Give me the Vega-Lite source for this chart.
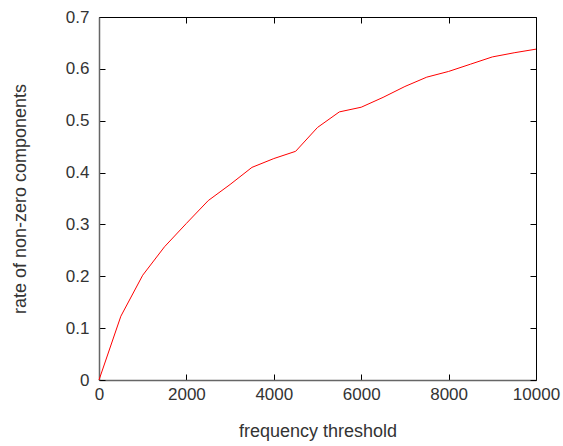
{
  "$schema": "https://vega.github.io/schema/vega-lite/v6.json",
  "width": 437,
  "height": 363,
  "autosize": {"type": "none"},
  "padding": {"left": 99, "top": 17, "right": 27, "bottom": 66},
  "background": "white",
  "config": {
    "view": {"stroke": "#000000", "strokeWidth": 1},
    "axis": {
      "labelFont": "Liberation Sans",
      "titleFont": "Liberation Sans",
      "labelFontSize": 17,
      "titleFontSize": 18,
      "labelColor": "#333333",
      "titleColor": "#333333",
      "titleFontWeight": "normal",
      "grid": false,
      "domainColor": "#666666",
      "domainWidth": 1.5,
      "tickColor": "#000000",
      "tickSize": -6,
      "tickWidth": 1
    }
  },
  "data": {
    "values": [
      {"threshold": 0, "rate": 0},
      {"threshold": 500, "rate": 0.123},
      {"threshold": 1000, "rate": 0.202},
      {"threshold": 1500, "rate": 0.257},
      {"threshold": 2000, "rate": 0.302},
      {"threshold": 2500, "rate": 0.346},
      {"threshold": 3000, "rate": 0.377},
      {"threshold": 3500, "rate": 0.41},
      {"threshold": 4000, "rate": 0.427},
      {"threshold": 4500, "rate": 0.441},
      {"threshold": 5000, "rate": 0.487},
      {"threshold": 5500, "rate": 0.517},
      {"threshold": 6000, "rate": 0.526},
      {"threshold": 6500, "rate": 0.545},
      {"threshold": 7000, "rate": 0.566},
      {"threshold": 7500, "rate": 0.584},
      {"threshold": 8000, "rate": 0.595},
      {"threshold": 8500, "rate": 0.609},
      {"threshold": 9000, "rate": 0.623},
      {"threshold": 9500, "rate": 0.631},
      {"threshold": 10000, "rate": 0.638}
    ]
  },
  "layer": [
    {
      "mark": {"type": "line", "color": "#ff0000", "strokeWidth": 1},
      "encoding": {
        "x": {
          "field": "threshold", "type": "quantitative",
          "scale": {"domain": [0, 10000], "nice": false},
          "axis": {"title": "frequency threshold", "values": [0, 2000, 4000, 6000, 8000, 10000], "labelPadding": 12, "titlePadding": 20, "labelFlush": false, "format": "d"}
        },
        "y": {
          "field": "rate", "type": "quantitative",
          "scale": {"domain": [0, 0.7], "nice": false},
          "axis": {"title": "rate of non-zero components", "values": [0, 0.1, 0.2, 0.3, 0.4, 0.5, 0.6, 0.7], "labelPadding": 16, "titlePadding": 36, "labelFlush": false, "format": "~g"}
        }
      }
    },
    {
      "mark": {"type": "line", "opacity": 0},
      "encoding": {
        "x": {
          "field": "threshold", "type": "quantitative",
          "scale": {"domain": [0, 10000], "nice": false},
          "axis": {"orient": "top", "title": null, "labels": false, "domain": false, "values": [0, 2000, 4000, 6000, 8000, 10000]}
        },
        "y": {
          "field": "rate", "type": "quantitative",
          "scale": {"domain": [0, 0.7], "nice": false},
          "axis": {"orient": "right", "title": null, "labels": false, "domain": false, "values": [0, 0.1, 0.2, 0.3, 0.4, 0.5, 0.6, 0.7]}
        }
      }
    }
  ],
  "resolve": {"axis": {"x": "independent", "y": "independent"}}
}
